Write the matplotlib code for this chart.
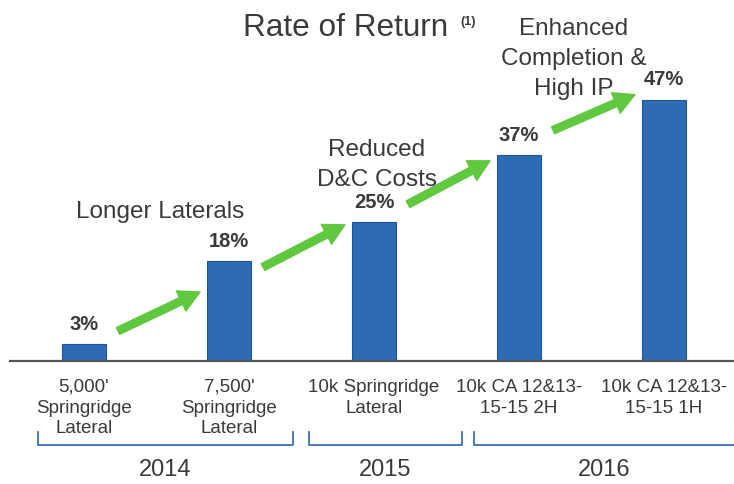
import matplotlib
matplotlib.use("Agg")
import matplotlib.pyplot as plt
import matplotlib.transforms as mtransforms

plt.rcParams["font.family"] = ["Liberation Sans", "DejaVu Sans"]

categories = [
    "5,000'\nSpringridge\nLateral",
    "7,500'\nSpringridge\nLateral",
    "10k Springridge\nLateral",
    "10k CA 12&13-\n15-15 2H",
    "10k CA 12&13-\n15-15 1H",
]
returns = [3, 18, 25, 37, 47]
years = ["2014", "2015", "2016"]
year_spans = [(-0.32, 1.44), (1.55, 2.61), (2.69, 4.6)]
# arrow start / end heights (in % units) between consecutive bars
arrow_y = [(5.4, 12.4), (16.9, 24.5), (28.2, 36.0), (41.5, 47.9)]

W, H = 734, 485
BAR = "#2d6cb4"
TXT = "#3a3a3a"
GREEN = "#5fc83e"


def fx(px):
    return px / W


def fy(py):
    return 1 - py / H


fig = plt.figure(figsize=(W / 100, H / 100), dpi=100)
ax = fig.add_axes([fx(10), fy(362), fx(724), 278 / H])

x = list(range(len(returns)))
ax.bar(x, returns, width=0.3, color=BAR, edgecolor="#1f5399", linewidth=0.8)
ax.set_xlim(-0.51, 4.483)
ax.set_ylim(0, 50)

for i, v in enumerate(returns):
    ax.annotate(f"{v}%", (i, v), xytext=(0, 15), textcoords="offset points",
                ha="center", va="center", fontsize=14.5, fontweight="bold",
                color=TXT)

for i, (y0, y1) in enumerate(arrow_y):
    ax.annotate("", xy=(i + 0.8, y1), xytext=(i + 0.235, y0),
                arrowprops=dict(arrowstyle="simple,head_length=0.75,head_width=0.8,tail_width=0.27",
                                color=GREEN, mutation_scale=20, shrinkA=0, shrinkB=0),
                annotation_clip=False)

for s in ["top", "right", "left"]:
    ax.spines[s].set_visible(False)
ax.spines["bottom"].set_color("#555555")
ax.spines["bottom"].set_linewidth(1.6)
ax.set_yticks([])
ax.set_xticks(x)
ax.set_xticklabels(categories, fontsize=13.5, color=TXT, linespacing=1.3)
ax.tick_params(axis="x", length=0, pad=12)

# year brackets
trans = mtransforms.blended_transform_factory(ax.transData, fig.transFigure)
for (a, b), yr in zip(year_spans, years):
    ax.plot([a, a, b, b], [fy(433), fy(446), fy(446), fy(433)], transform=trans,
            color="#3c6fb8", lw=1.3, clip_on=False)
    ax.text((a + b) / 2 if b < 4.5 else 3.59, fy(470), yr, transform=trans,
            ha="center", va="center", fontsize=17, color=TXT)

fig.text(fx(243), fy(28), "Rate of Return", fontsize=22.7, ha="left", va="center",
         color=TXT)
fig.text(fx(460), fy(22), "(1)", fontsize=9, ha="left", va="center", color=TXT,
         fontweight="bold")

fig.text(fx(160), fy(212), "Longer Laterals", fontsize=17.5, ha="center",
         va="center", color=TXT)
fig.text(fx(377), fy(165), "Reduced\nD&C Costs", fontsize=17.5, ha="center",
         va="center", color=TXT, linespacing=1.45)
fig.text(fx(574), fy(59), "Enhanced\nCompletion &\nHigh IP", fontsize=17.5,
         ha="center", va="center", color=TXT, linespacing=1.45)

fig.savefig("out.png", dpi=100)
